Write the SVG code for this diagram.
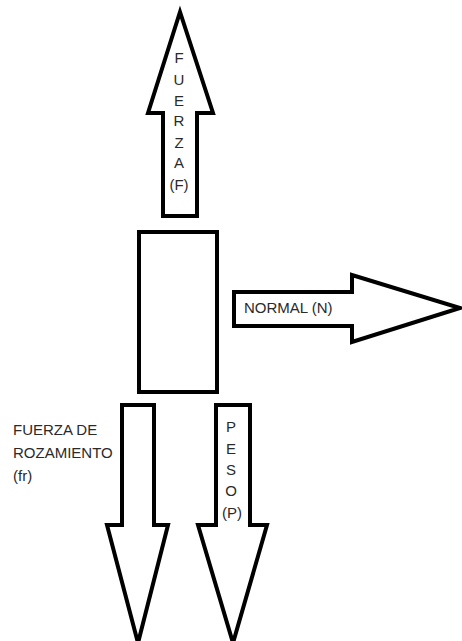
<svg xmlns="http://www.w3.org/2000/svg" width="462" height="641" viewBox="0 0 462 641">
<style>
.shape{fill:#fff;stroke:#000;stroke-width:4;stroke-linejoin:miter}
.lbl{font-family:"Liberation Sans",Arial,sans-serif;font-size:15px;fill:#2a2a2a}
.v{text-anchor:middle}
</style>
<rect width="462" height="641" fill="#fff"/>
<g id="block">
<rect class="shape" x="139" y="232" width="78" height="160"/>
</g>
<g id="fuerza">
<polygon class="shape" points="163,216 163,113 148,113 180,12 213,113 197,113 197,216"/>
<text class="lbl v" x="179" y="63">F</text>
<text class="lbl v" x="179" y="85">U</text>
<text class="lbl v" x="179" y="106">E</text>
<text class="lbl v" x="179" y="126">R</text>
<text class="lbl v" x="179" y="148">Z</text>
<text class="lbl v" x="179" y="168">A</text>
<text class="lbl v" x="179" y="190">(F)</text>
</g>
<g id="normal">
<polygon class="shape" points="234,292 352,292 352,275 460,308 352,342 352,326 234,326"/>
<text class="lbl" x="244" y="313">NORMAL (N)</text>
</g>
<g id="rozamiento">
<polygon class="shape" points="122,405 154,405 154,525 168,525 138,643 107,525 122,525"/>
<text class="lbl" x="13" y="435">FUERZA DE</text>
<text class="lbl" x="13" y="458">ROZAMIENTO</text>
<text class="lbl" x="13" y="481">(fr)</text>
</g>
<g id="peso">
<polygon class="shape" points="216,405 250,405 250,525 267,525 233,643 198,525 216,525"/>
<text class="lbl v" x="231" y="432">P</text>
<text class="lbl v" x="231" y="454">E</text>
<text class="lbl v" x="231" y="475">S</text>
<text class="lbl v" x="231" y="496">O</text>
<text class="lbl v" x="232" y="518">(P)</text>
</g>
</svg>
